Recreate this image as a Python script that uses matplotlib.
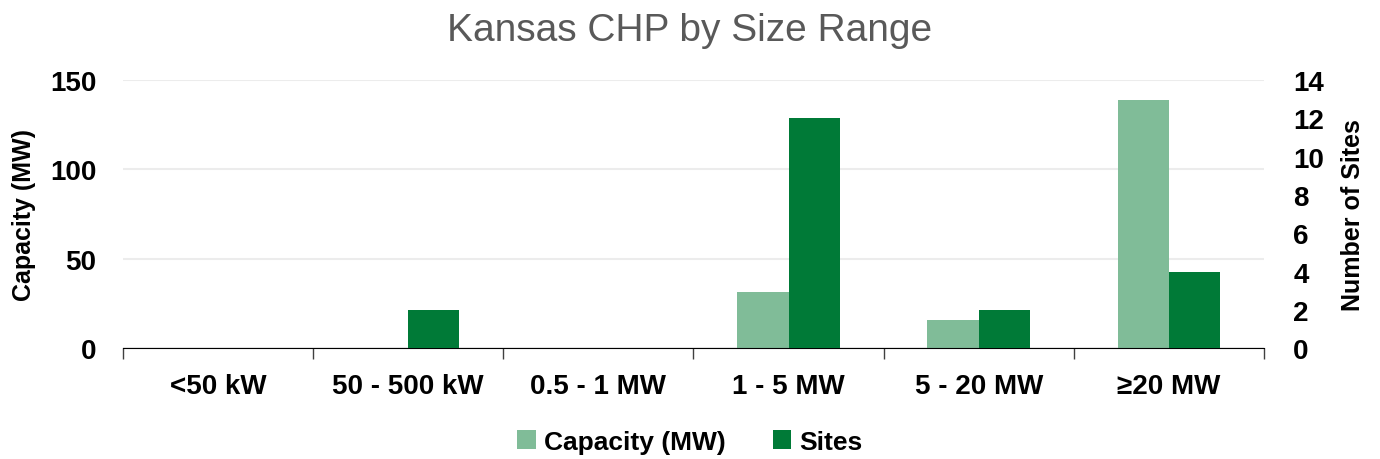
import numpy as np
import matplotlib.pyplot as plt

categories = ['<50 kW', '50 - 500 kW', '0.5 - 1 MW', '1 - 5 MW', '5 - 20 MW', '≥20 MW']
capacity_mw = [0, 0, 0, 31.2, 15.6, 138.8]
sites = [0, 2, 0, 12, 2, 4]

light_green = '#80bc98'
dark_green = '#007a37'

plt.rcParams['font.family'] = ['Liberation Sans', 'DejaVu Sans']

fig = plt.figure(figsize=(13.8, 4.6), dpi=100)
ax = fig.add_axes([0.089, 0.241, 0.827, 0.583])
ax2 = ax.twinx()

x = np.arange(len(categories))
w = 0.27
ax.bar(x - w / 2, capacity_mw, width=w, color=light_green, label='Capacity (MW)', zorder=2)
ax2.bar(x + w / 2, sites, width=w, color=dark_green, label='Sites', zorder=2)

ax.set_xlim(-0.5, len(categories) - 0.5)
ax.set_ylim(0, 150)
ax2.set_ylim(0, 14)
ax.set_yticks([0, 50, 100, 150])
ax2.set_yticks(range(0, 15, 2))

# category labels between boundary ticks
ax.set_xticks(np.arange(-0.5, len(categories)), minor=False)
ax.set_xticklabels([])
ax.set_xticks(x, minor=True)
ax.set_xticklabels(categories, minor=True)
ax.tick_params(axis='x', which='major', length=8, width=1, color='#404040', direction='out')
ax.tick_params(axis='x', which='minor', length=0, pad=18, labelsize=20)

ax.yaxis.grid(True, color='#ececec', linewidth=1.5, zorder=0)
ax.set_axisbelow(True)
for a in (ax, ax2):
    for s in ('top', 'left', 'right'):
        a.spines[s].set_visible(False)
ax.tick_params(axis='y', length=0, labelsize=20, pad=19)
ax2.tick_params(axis='y', length=0, labelsize=20, pad=21)
ax.spines['bottom'].set_color('#000000')
ax2.spines['bottom'].set_visible(False)

for lab in ax.get_yticklabels() + ax2.get_yticklabels() + ax.get_xticklabels(minor=True):
    lab.set_fontweight('bold')

ax.set_ylabel('Capacity (MW)', fontsize=18, fontweight='bold', labelpad=10)
ax2.set_ylabel('Number of Sites', fontsize=18, fontweight='bold', labelpad=12)

fig.suptitle('Kansas CHP by Size Range', fontsize=28, color='#595959', y=0.972)

h1, l1 = ax.get_legend_handles_labels()
h2, l2 = ax2.get_legend_handles_labels()
leg = fig.legend(h1 + h2, l1 + l2, loc='lower center', ncol=2, frameon=False,
                 bbox_to_anchor=(0.5, -0.04), handlelength=0.7,
                 handleheight=0.7, columnspacing=1.8, handletextpad=0.3,
                 prop={'weight': 'bold', 'size': 19})

fig.savefig('out.png', dpi=100)
